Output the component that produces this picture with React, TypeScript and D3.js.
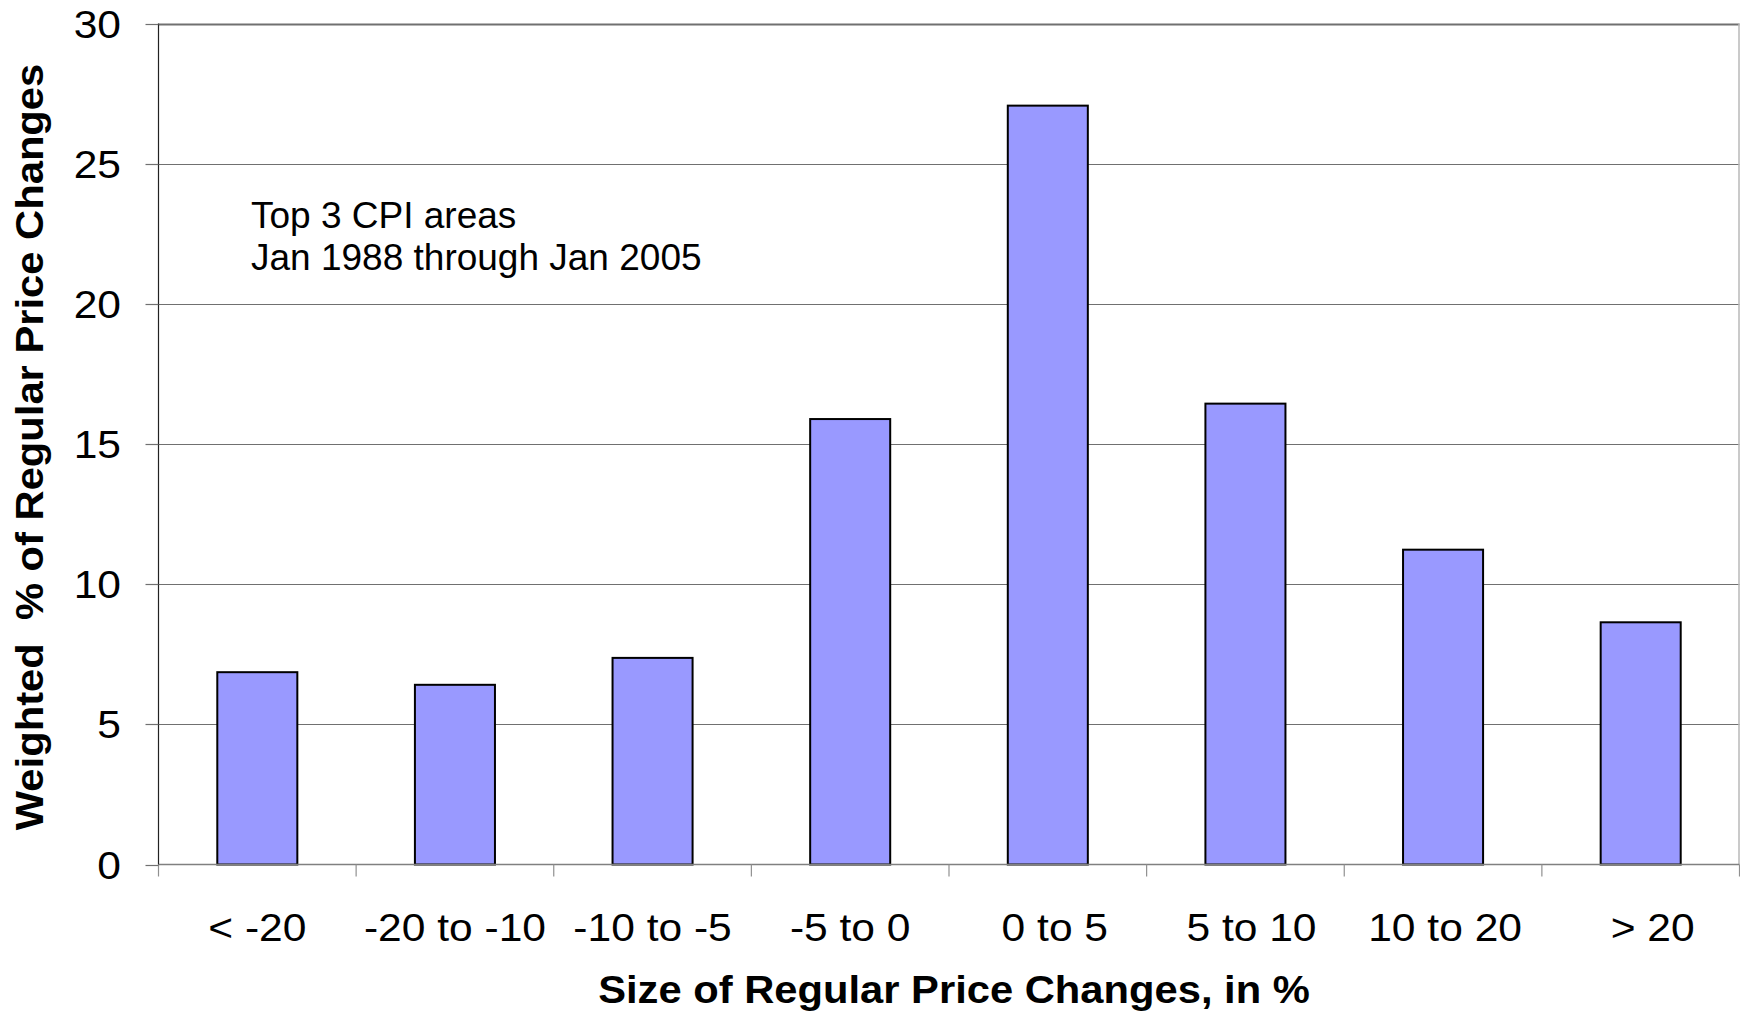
import React from "react";
import * as d3 from "d3";

const categories = ["< -20", "-20 to -10", "-10 to -5", "-5 to 0", "0 to 5", "5 to 10", "10 to 20", "> 20"];
const values = [6.86, 6.41, 7.37, 15.89, 27.07, 16.44, 11.23, 8.64];
const yTicks = [0, 5, 10, 15, 20, 25, 30];
const annotationLines = ["Top 3 CPI areas", "Jan 1988 through Jan 2005"];
const xTitle = "Size of Regular Price Changes, in %";
const yTitle = "Weighted  % of Regular Price Changes";

// layout constants (not data)
const W = 1740;
const H = 1018;
const left = 158.5;
const right = 1739.5;
const top = 23.5;
const bottom = 864.5;
const FONT = "'Liberation Sans', Arial, Helvetica, sans-serif";
const labelNudge = [0, 0, 0, 0, 7, 6, 2, 12];

export default function App() {
  const x = d3.scaleBand<string>().domain(categories).range([left, right]).paddingInner(0.595).paddingOuter(0.2975);
  const y = d3.scaleLinear().domain([0, 30]).range([bottom, top]);
  const step = x.step();
  const boundaries = d3.range(categories.length + 1).map((i) => left + i * step);

  return (
    <svg width={W} height={H} style={{ position: "absolute", left: 0, top: 0, background: "#fff" }} fontFamily={FONT}>
      <rect x={0} y={0} width={W} height={H} fill="#fff" />
      {/* gridlines */}
      {yTicks.filter((t) => t > 0).map((t) => (
        <line key={"g" + t} x1={left} x2={right} y1={Math.round(y(t)) + 0.5} y2={Math.round(y(t)) + 0.5} stroke="#707070" strokeWidth={t === 30 ? 2 : 1.2} />
      ))}
      {/* right border */}
      <line x1={right - 0.5} x2={right - 0.5} y1={top} y2={bottom} stroke="#b8b8b8" strokeWidth={1.5} />
      {/* bars */}
      {values.map((v, i) => (
        <rect
          key={"b" + i}
          x={x(categories[i])}
          y={y(v)}
          width={x.bandwidth()}
          height={y(0) - y(v)}
          fill="#9999FF"
          stroke="#000"
          strokeWidth={2}
        />
      ))}
      {/* x axis line */}
      <line x1={left} x2={right} y1={bottom} y2={bottom} stroke="#808080" strokeWidth={1.5} />
      {/* x ticks */}
      {boundaries.map((b, i) => (
        <line key={"xt" + i} x1={b} x2={b} y1={bottom} y2={bottom + 12} stroke="#909090" strokeWidth={1.2} />
      ))}
      {/* y axis line */}
      <line x1={left} x2={left} y1={top} y2={bottom} stroke="#222" strokeWidth={1.2} />
      {/* y ticks and labels */}
      {yTicks.map((t) => (
        <g key={"yt" + t}>
          <line x1={left - 13} x2={left} y1={Math.round(y(t)) + 0.5} y2={Math.round(y(t)) + 0.5} stroke="#707070" strokeWidth={1.2} />
          <text
            transform={`translate(121,${y(t) + 14}) scale(1.12,1)`}
            textAnchor="end"
            fontSize={38}
            fill="#000"
          >
            {t}
          </text>
        </g>
      ))}
      {/* x labels */}
      {categories.map((c, i) => (
        <text
          key={"xl" + c}
          transform={`translate(${(x(c) as number) + x.bandwidth() / 2 + labelNudge[i]},941) scale(1.12,1)`}
          textAnchor="middle"
          fontSize={38}
          fill="#000"
        >
          {c}
        </text>
      ))}
      {/* annotation */}
      {annotationLines.map((l, i) => (
        <text key={"an" + i} x={251} y={228 + i * 42} fontSize={37} fill="#000">
          {l}
        </text>
      ))}
      {/* axis titles */}
      <text transform={`translate(${(left + right) / 2 + 5},1003) scale(1.07,1)`} textAnchor="middle" fontSize={39} fontWeight="bold" fill="#000">
        {xTitle}
      </text>
      <text transform={`translate(43,447) rotate(-90) scale(1.07,1)`} textAnchor="middle" fontSize={39} fontWeight="bold" fill="#000" style={{ whiteSpace: "pre" }}>
        {yTitle}
      </text>
    </svg>
  );
}
